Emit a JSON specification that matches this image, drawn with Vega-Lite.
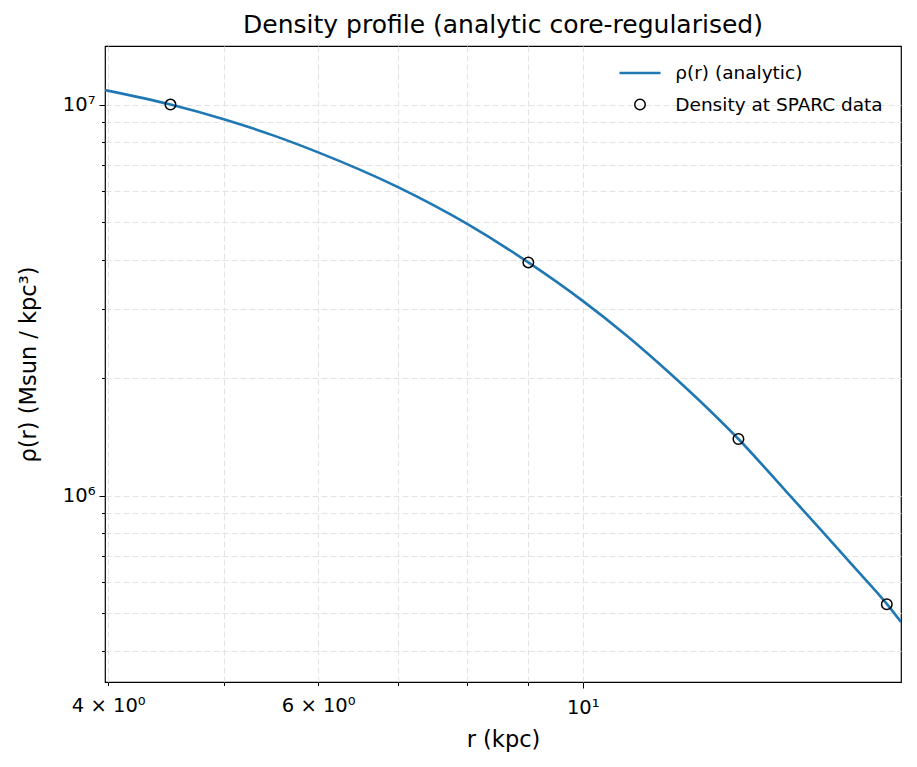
{
  "$schema": "https://vega.github.io/schema/vega-lite/v6.json",
  "width": 796,
  "height": 636,
  "autosize": "none",
  "padding": {"left": 105, "top": 46, "right": 16, "bottom": 85},
  "background": "white",
  "title": {"text": "Density profile (analytic core-regularised)", "font": "DejaVu Sans", "fontSize": 25, "fontWeight": "normal", "color": "black", "offset": 8},
  "config": {
    "view": {"stroke": "black", "strokeWidth": 1.2},
    "axis": {
      "domain": false,
      "grid": true,
      "gridDash": [6, 3],
      "gridColor": "#e3e3e3",
      "gridWidth": 1,
      "tickColor": "black",
      "tickWidth": 1,
      "labelFont": "DejaVu Sans",
      "labelFontSize": 19.5,
      "labelColor": "black",
      "titleFont": "DejaVu Sans",
      "titleFontSize": 22.5,
      "titleFontWeight": "normal",
      "titleColor": "black"
    },
    "legend": {"labelFont": "DejaVu Sans", "labelFontSize": 18.5, "labelColor": "black", "labelLimit": 0}
  },
  "datasets": {
    "curve": [
      {"r": 3.975, "rho": 10886000},
      {"r": 4.511, "rho": 10000000},
      {"r": 5.0, "rho": 9173000},
      {"r": 5.5, "rho": 8340000},
      {"r": 6.0, "rho": 7545000},
      {"r": 7.0, "rho": 6147000},
      {"r": 8.0, "rho": 4950000},
      {"r": 9.003, "rho": 3946000},
      {"r": 10.0, "rho": 3146000},
      {"r": 10.889, "rho": 2562000},
      {"r": 11.839, "rho": 2051000},
      {"r": 12.794, "rho": 1645000},
      {"r": 13.508, "rho": 1395000},
      {"r": 14.834, "rho": 1018800},
      {"r": 15.82, "rho": 820000},
      {"r": 16.87, "rho": 658500},
      {"r": 17.99, "rho": 528200},
      {"r": 18.49, "rho": 474800}
    ],
    "sparc": [
      {"r": 4.511, "rho": 10000000},
      {"r": 9.003, "rho": 3946000},
      {"r": 13.508, "rho": 1395000},
      {"r": 17.99, "rho": 527000}
    ]
  },
  "encoding": {
    "x": {
      "field": "r", "type": "quantitative",
      "scale": {"type": "log", "domain": [3.975, 18.49], "nice": false},
      "axis": {
        "title": "r (kpc)",
        "values": [4, 5, 6, 7, 8, 9, 10],
        "labelExpr": "datum.value == 4 ? '4 × 10⁰' : datum.value == 6 ? '6 × 10⁰' : datum.value == 10 ? '10¹' : ''",
        "tickSize": {"condition": {"test": "datum.value == 10", "value": 6}, "value": 3.5},
        "labelPadding": 10.5,
        "titlePadding": 11
      }
    },
    "y": {
      "field": "rho", "type": "quantitative",
      "scale": {"type": "log", "domain": [333400, 14118000], "nice": false},
      "axis": {
        "title": "ρ(r) (Msun / kpc³)",
        "values": [400000, 500000, 600000, 700000, 800000, 900000, 1000000, 2000000, 3000000, 4000000, 5000000, 6000000, 7000000, 8000000, 9000000, 10000000],
        "labelExpr": "datum.value == 1000000 ? '10⁶' : datum.value == 10000000 ? '10⁷' : ''",
        "tickSize": {"condition": {"test": "datum.value == 1000000 || datum.value == 10000000", "value": 6}, "value": 3.5},
        "labelPadding": 4,
        "titlePadding": 22
      }
    }
  },
  "layer": [
    {
      "data": {"name": "curve"},
      "mark": {"type": "line", "interpolate": "monotone", "strokeWidth": 2.6, "clip": true},
      "encoding": {
        "color": {
          "datum": "ρ(r) (analytic)",
          "scale": {"domain": ["ρ(r) (analytic)", "Density at SPARC data"], "range": ["#1f77b4", "black"]},
          "legend": {
            "title": null,
            "orient": "none",
            "legendX": 525.75,
            "legendY": 17.75,
            "padding": 0,
            "rowPadding": 12.5,
            "labelOffset": 26,
            "symbolOffset": 0,
            "encode": {
              "symbols": {
                "update": {
                  "shape": {"signal": "datum.value === 'Density at SPARC data' ? 'circle' : 'stroke'"},
                  "size": {"signal": "datum.value === 'Density at SPARC data' ? 110 : 1681"},
                  "strokeWidth": {"signal": "datum.value === 'Density at SPARC data' ? 1.5 : 2.6"},
                  "fill": {"value": "transparent"},
                  "stroke": {"signal": "datum.value === 'Density at SPARC data' ? 'black' : '#1f77b4'"},
                  "opacity": {"value": 1}
                }
              }
            }
          }
        }
      }
    },
    {
      "data": {"name": "sparc"},
      "mark": {"type": "point", "filled": false, "size": 110, "strokeWidth": 1.5, "opacity": 1},
      "encoding": {
        "color": {"datum": "Density at SPARC data"}
      }
    }
  ]
}
